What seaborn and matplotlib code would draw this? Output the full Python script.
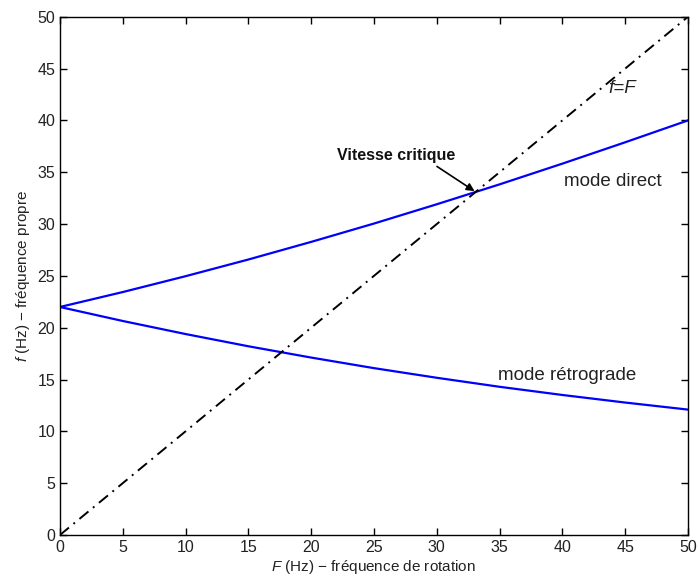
import numpy as np
import pandas as pd
import matplotlib
matplotlib.use("Agg")
import matplotlib.pyplot as plt
import seaborn as sns

# rotation frequency F (Hz)
rotation_freq = [0, 5, 10, 15, 20, 25, 30, 35, 40, 45, 50]
# natural frequencies
mode_direct = [22.0, 23.44, 24.97, 26.58, 28.28, 30.05, 31.91, 33.83, 35.83, 37.89, 40.0]
mode_retrograde = [22.0, 20.65, 19.39, 18.21, 17.12, 16.10, 15.17, 14.30, 13.51, 12.78, 12.10]
diag_x = [0, 50]
diag_y = [0, 50]
critical_speed = 33.1
ticks = [0, 5, 10, 15, 20, 25, 30, 35, 40, 45, 50]

sns.set_style("ticks")
plt.rcParams["font.family"] = ["Liberation Sans", "DejaVu Sans"]
plt.rcParams["mathtext.fontset"] = "custom"
plt.rcParams["mathtext.it"] = "Liberation Sans:italic"
plt.rcParams["mathtext.rm"] = "Liberation Sans"

df = pd.DataFrame({"F": rotation_freq, "direct": mode_direct, "retro": mode_retrograde})

fig = plt.figure(figsize=(6.97, 5.79), dpi=100)
ax = fig.add_axes([0.086, 0.076, 0.901, 0.895])

sns.lineplot(data=df, x="F", y="direct", color="#0000ff", linewidth=1.6, ax=ax)
sns.lineplot(data=df, x="F", y="retro", color="#0000ff", linewidth=1.6, ax=ax)
ax.plot(diag_x, diag_y, color="black", linewidth=1.4, dashes=(6, 3, 1, 3))

ax.set_xlim(0, 50)
ax.set_ylim(0, 50)
ax.set_xticks(ticks)
ax.set_yticks(ticks)
ax.tick_params(direction="in", top=True, right=True, labelsize=11.5, length=5, width=1,
               colors="black", labelcolor="#222222")
for s in ax.spines.values():
    s.set_visible(True)
    s.set_linewidth(1.0)
    s.set_color("black")

ax.set_xlabel(r"$\mathit{F}$ (Hz) $-$ fréquence de rotation", fontsize=11, labelpad=2, color="#222222")
ax.set_ylabel(r"$\mathit{f}$ (Hz) $-$ fréquence propre", fontsize=11, labelpad=4, color="#222222")

ax.text(44.0, 34.1, "mode direct", fontsize=13.5, ha="center", va="center", color="#222222")
ax.text(40.4, 15.4, "mode rétrograde", fontsize=13.5, ha="center", va="center", color="#222222")
ax.text(44.8, 43.1, "f=F", fontsize=13.5, ha="center", va="center", style="italic", color="#222222")
ax.annotate("Vitesse critique", xy=(critical_speed, critical_speed), xytext=(26.8, 36.6),
            fontsize=11.5, fontweight="bold", ha="center", va="center", color="#111111",
            arrowprops=dict(arrowstyle="-|>", color="black", lw=1.2,
                            shrinkA=0, shrinkB=1, relpos=(0.8, 0.0)))

fig.savefig("out.png", dpi=100)
